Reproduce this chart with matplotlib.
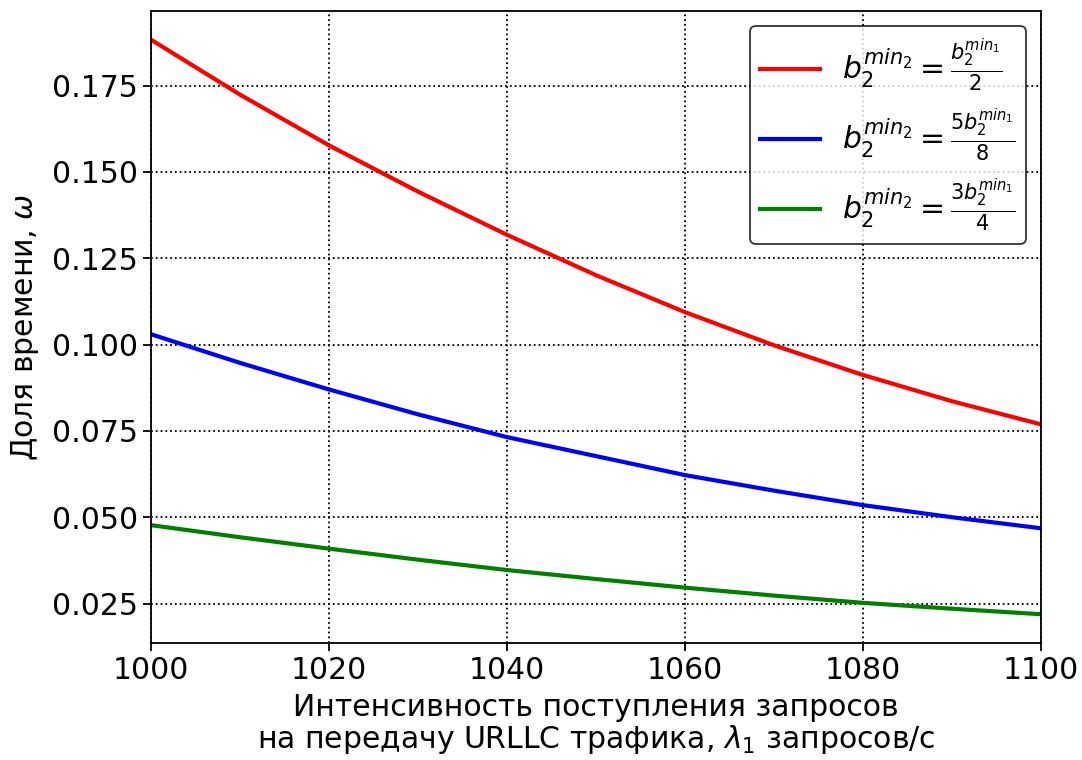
import matplotlib
matplotlib.use("Agg")
import matplotlib.pyplot as plt

# Arrival intensity of URLLC requests, requests/s
lam = [1000, 1010, 1020, 1030, 1040, 1050, 1060, 1070, 1080, 1090, 1100]

# Share of time for three values of b2^{min2}
omega_half = [0.1883, 0.1724, 0.1577, 0.1443, 0.1318, 0.1201, 0.1094, 0.0998, 0.0912, 0.0836, 0.0769]
omega_five_eighths = [0.1030, 0.0947, 0.0870, 0.0798, 0.0732, 0.0677, 0.0622, 0.0577, 0.0535, 0.0500, 0.0468]
omega_three_quarters = [0.0477, 0.0442, 0.0409, 0.0377, 0.0347, 0.0321, 0.0296, 0.0273, 0.0252, 0.0235, 0.0219]

labels = [
    r"$b_2^{min_2}=\frac{b_2^{min_1}}{2}$",
    r"$b_2^{min_2}=\frac{5b_2^{min_1}}{8}$",
    r"$b_2^{min_2}=\frac{3b_2^{min_1}}{4}$",
]

fig = plt.figure(figsize=(10.82, 7.6), dpi=100)
ax = fig.add_axes([0.1396, 0.154, 0.8225, 0.8315])

ax.plot(lam, omega_half, color="red", lw=3, label=labels[0])
ax.plot(lam, omega_five_eighths, color="blue", lw=3, label=labels[1])
ax.plot(lam, omega_three_quarters, color="green", lw=3, label=labels[2])

ax.set_xlim(1000, 1100)
ax.set_xticks([1000, 1020, 1040, 1060, 1080, 1100])
ax.set_yticks([0.025, 0.050, 0.075, 0.100, 0.125, 0.150, 0.175])
ax.grid(True, color="black", linestyle=":", linewidth=1.3)
ax.tick_params(labelsize=21.5, width=1.3, length=6)
for s in ax.spines.values():
    s.set_linewidth(1.3)

ax.set_xlabel("Интенсивность поступления запросов\nна передачу URLLC трафика, $\\lambda_1$ запросов/с",
              fontsize=21.5, linespacing=1.02, labelpad=6)
ax.set_ylabel("Доля времени, $\\omega$", fontsize=21.5, labelpad=8)

leg = ax.legend(loc="upper right", fontsize=21.5, labelspacing=0.42, edgecolor="black",
                fancybox=True, borderpad=0.35, handlelength=2.0, handletextpad=0.75,
                borderaxespad=0.5)
leg.get_frame().set_linewidth(1.3)

fig.savefig("out.png", dpi=100)
